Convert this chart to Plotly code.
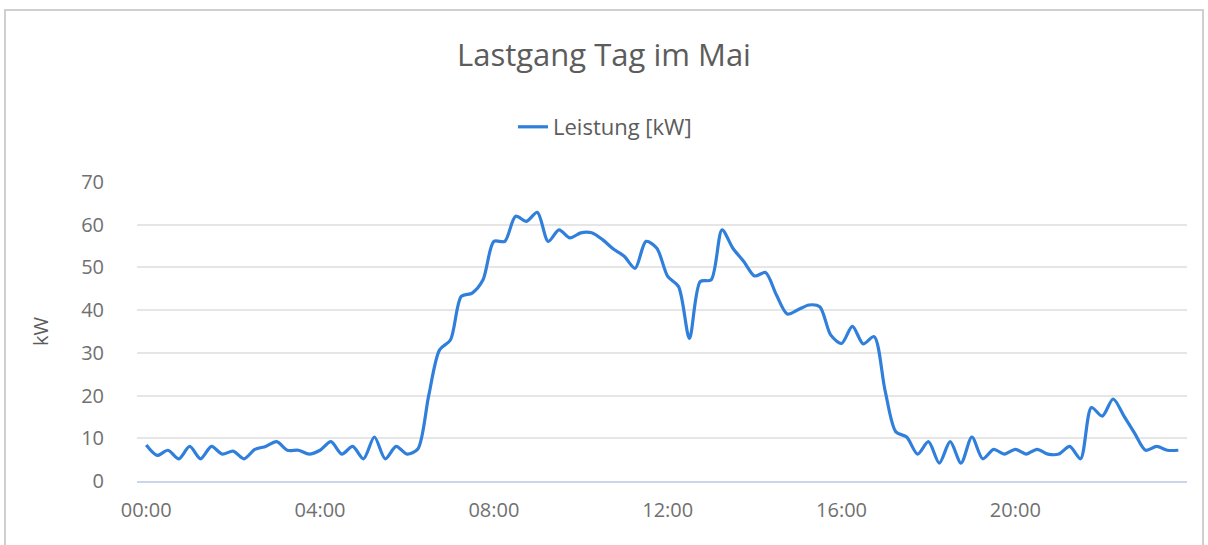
import plotly.graph_objects as go

times = [f"{h:02d}:{m:02d}" for h in range(24) for m in (0, 15, 30, 45)]

leistung = [
    8.4, 6.0, 7.2, 5.2, 8.1, 5.2, 8.1, 6.3, 7.0, 5.2, 7.4, 8.1, 9.2, 7.2, 7.2, 6.3,
    7.2, 9.2, 6.3, 8.1, 5.2, 10.3, 5.2, 8.1, 6.3, 7.5, 20.0, 30.7, 33.0, 43.2, 44.0, 47.1,
    56.1, 56.1, 62.0, 60.8, 62.9, 56.1, 58.8, 56.9, 58.1, 58.1, 56.5, 54.3, 52.6, 49.8, 56.1, 54.5,
    47.9, 45.5, 33.4, 46.7, 47.1, 58.8, 54.5, 51.4, 48.0, 48.8, 43.6, 39.1, 40.1, 41.2, 40.8, 34.2,
    32.2, 36.2, 32.1, 33.8, 21.3, 11.5, 10.3, 6.3, 9.2, 4.2, 9.2, 4.2, 10.3, 5.2, 7.4, 6.3,
    7.4, 6.3, 7.4, 6.3, 6.3, 8.1, 5.2, 17.2, 15.2, 19.2, 15.2, 11.1, 7.2, 8.1, 7.2, 7.2,
]

tick_idx = [0, 16, 32, 48, 64, 80]
y_ticks = [0, 10, 20, 30, 40, 50, 60, 70]

FONT = "Open Sans"
TXT = "#707070"

fig = go.Figure()
fig.add_trace(go.Scatter(
    x=list(range(len(times))),
    y=leistung,
    mode="lines",
    name="Leistung [kW]",
    line=dict(color="#2f7fdb", width=3.2, shape="spline", smoothing=0.8),
    customdata=times,
    hovertemplate="%{customdata}: %{y} kW<extra></extra>",
))

L, R, T, B = 137, 21, 182, 64
W, H = 1208, 545
pw, ph = W - L - R, H - T - B

fig.update_layout(
    width=W, height=H,
    margin=dict(l=L, r=R, t=T, b=B),
    paper_bgcolor="white",
    plot_bgcolor="white",
    font=dict(family=FONT, color=TXT),
    title=dict(
        text="Lastgang Tag im Mai",
        x=0.5, xanchor="center",
        y=(H - 55) / H, yanchor="middle", yref="container",
        font=dict(family=FONT, size=31, color="#5c5c5c"),
    ),
    showlegend=True,
    legend=dict(
        orientation="h",
        x=0.5 - 57 / pw, xanchor="center",
        y=(481 - 127) / ph, yanchor="middle",
        font=dict(family=FONT, size=22, color="#5c5c5c"),
        bgcolor="rgba(0,0,0,0)",
    ),
    xaxis=dict(
        range=[-0.85, 95.8],
        tickmode="array",
        tickvals=tick_idx,
        ticktext=[times[i] for i in tick_idx],
        showgrid=False,
        zeroline=False,
        showline=True,
        linecolor="#ccd6eb",
        linewidth=2,
        ticks="outside",
        ticklen=10,
        tickcolor="rgba(0,0,0,0)",
        tickfont=dict(family=FONT, size=20, color=TXT),
        fixedrange=True,
    ),
    yaxis=dict(
        range=[0, 70],
        tickmode="array",
        tickvals=y_ticks,
        showgrid=True,
        gridcolor="#e6e6e6",
        gridwidth=1.5,
        zeroline=False,
        showline=False,
        ticks="outside",
        ticklen=28,
        tickcolor="rgba(0,0,0,0)",
        tickfont=dict(family=FONT, size=20, color=TXT),
        title=dict(text="kW", font=dict(family=FONT, size=20, color="#5c5c5c"), standoff=27),
        fixedrange=True,
    ),
    shapes=[
        dict(
            type="rect", xref="paper", yref="paper",
            x0=(5 - L) / pw, x1=(1203 - L) / pw,
            y0=(481 - 560) / ph, y1=(481 - 10) / ph,
            line=dict(color="#cfcfcf", width=2),
            fillcolor="rgba(0,0,0,0)",
            layer="below",
        )
    ],
)

fig.write_html(
    "out.html",
    config={"displayModeBar": False},
    post_script="document.body.style.margin='0';",
)
